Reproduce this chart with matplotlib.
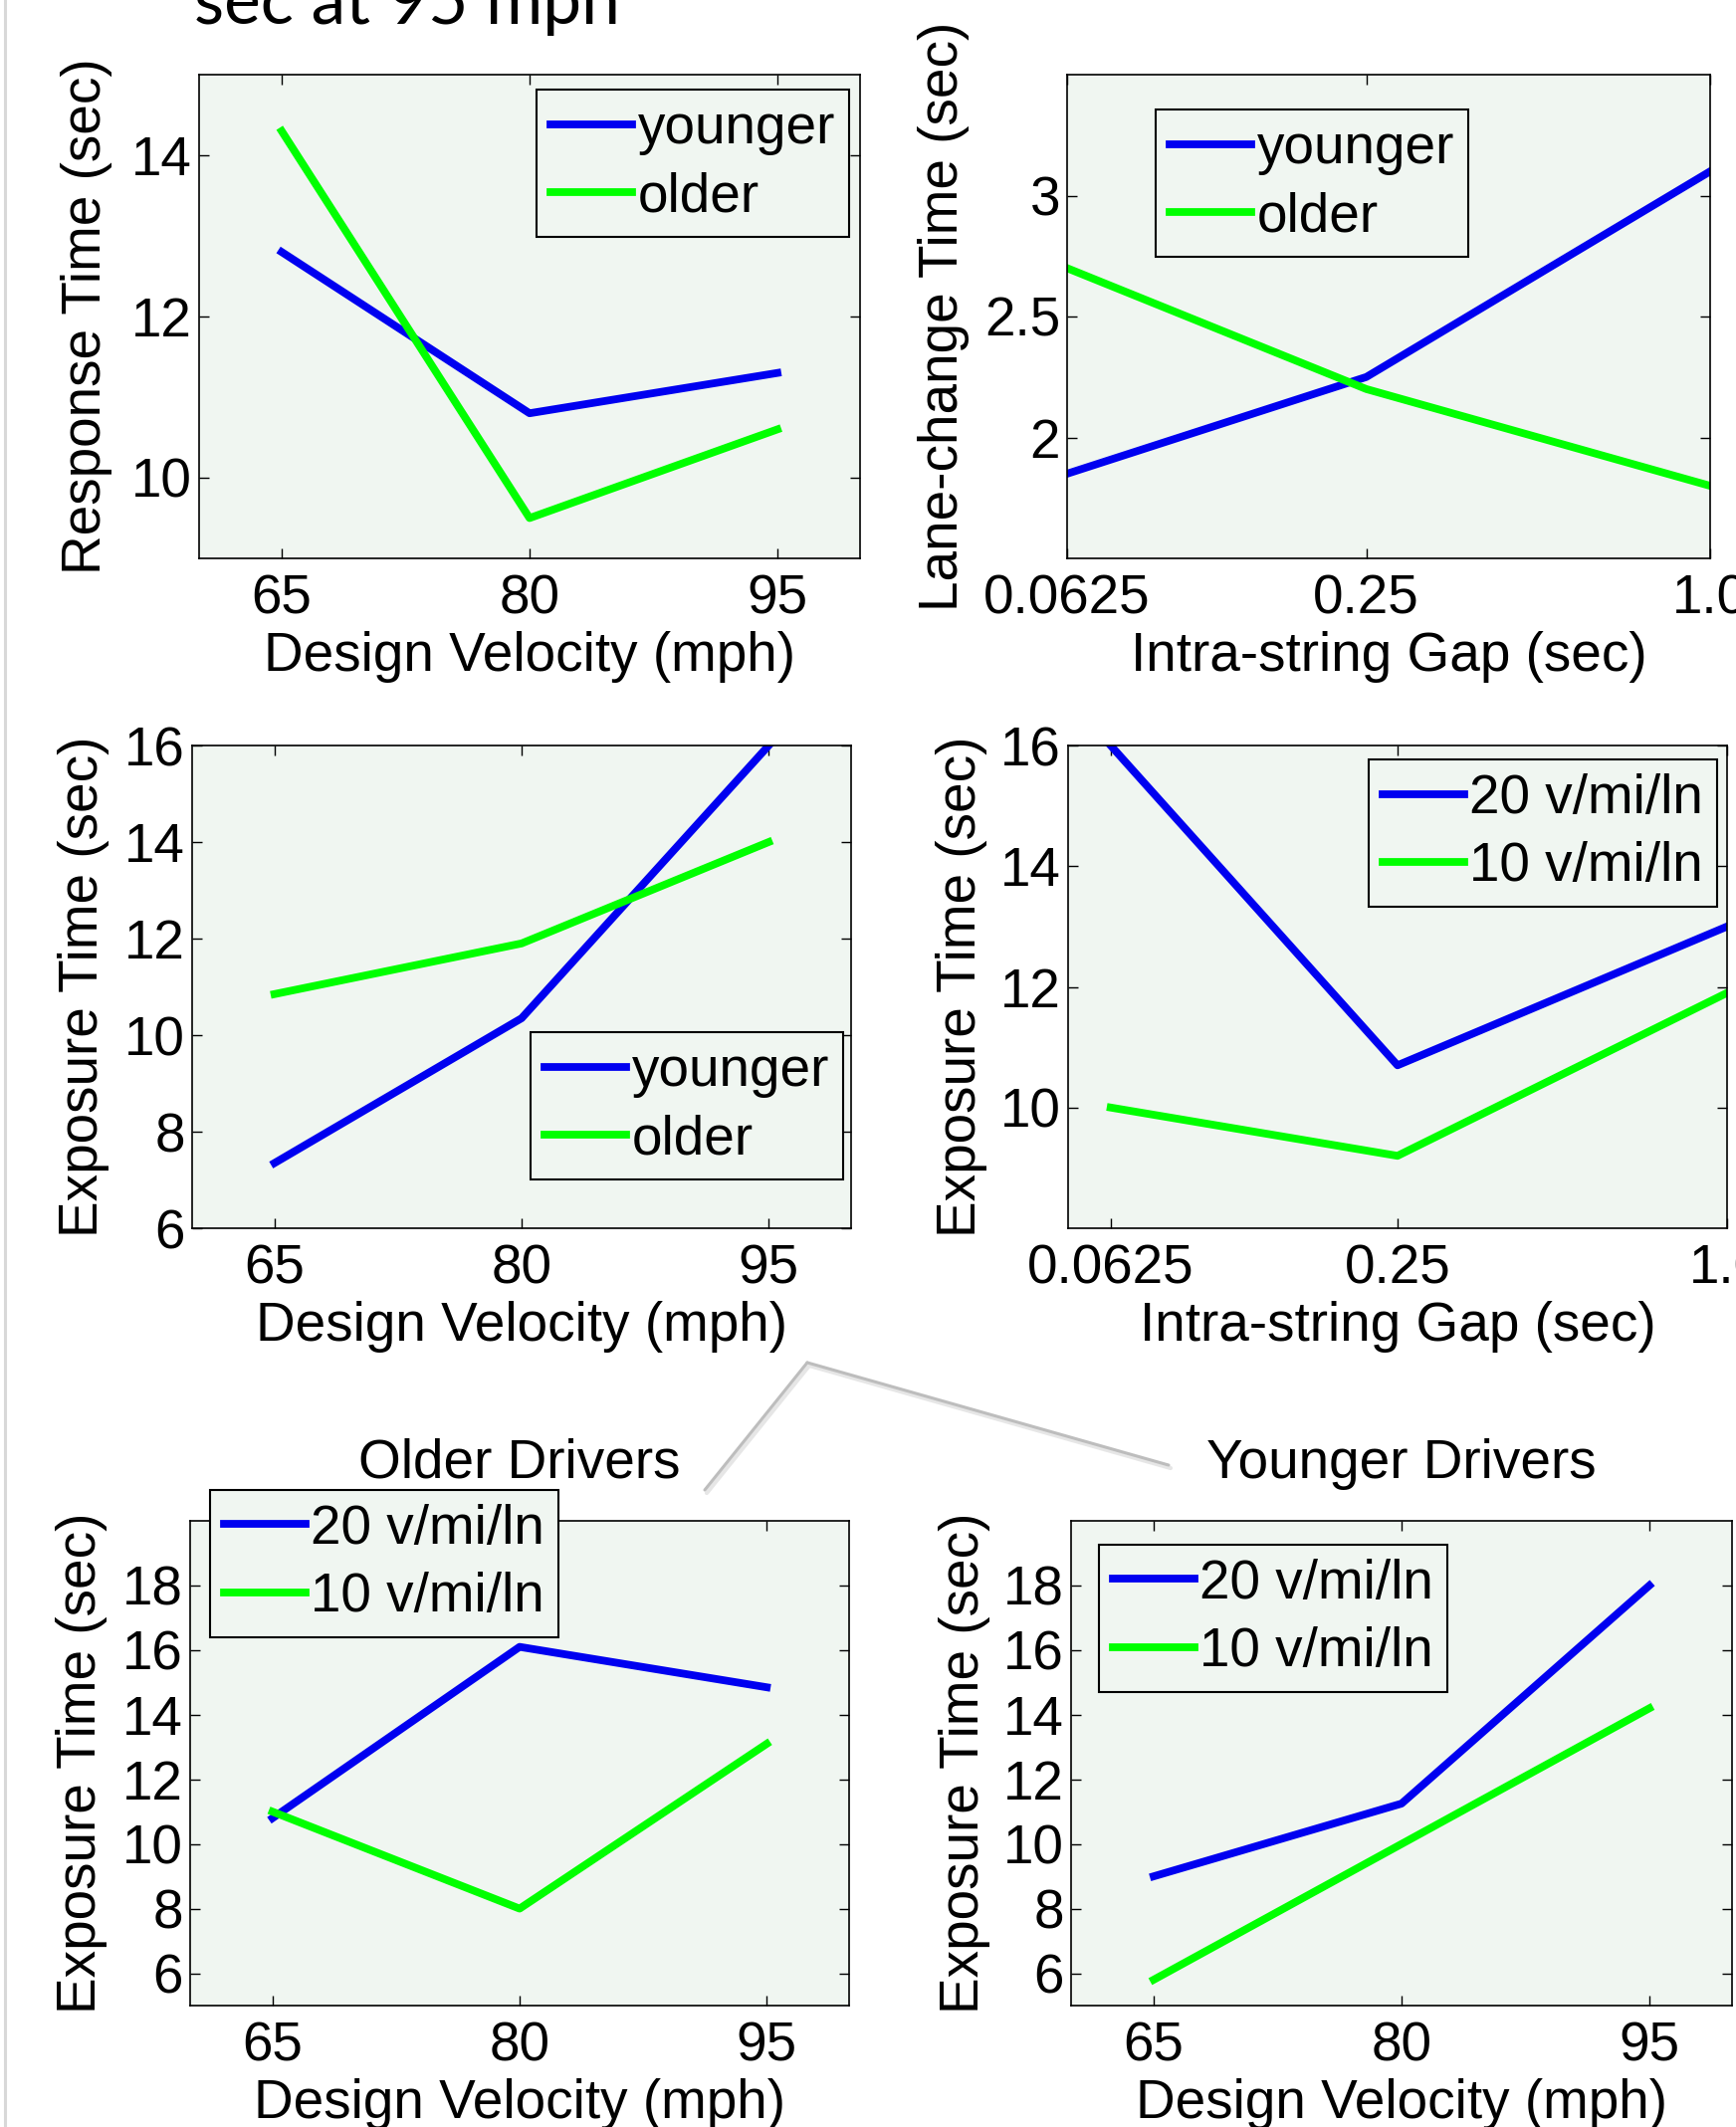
import numpy as np
import matplotlib
matplotlib.use("Agg")
import matplotlib.pyplot as plt
from matplotlib.lines import Line2D

W, H, DPI = 1744, 2137, 100
FS = 39.5
FONT = "Liberation Sans"
AX_BG = "#f0f6f1"
BLUE = "#0000f0"
GREEN = "#00ff00"
LW = 5.6

plt.rcParams["font.family"] = [FONT, "DejaVu Sans"]
plt.rcParams["font.size"] = FS

# ---- data ----
velocity = [65, 80, 95]
gap = [0.0625, 0.25, 1.0]
gap_labels = ["0.0625", "0.25", "1.0"]

resp_younger = [12.8, 10.8, 11.3]
resp_older = [14.3, 9.5, 10.6]

lane_younger = [1.85, 2.25, 3.1]
lane_older = [2.7, 2.2, 1.8]

expo_vel_younger = [7.35, 10.35, 16.0]
expo_vel_older = [10.85, 11.9, 14.0]

expo_gap_20 = [16.0, 10.7, 13.0]
expo_gap_10 = [10.0, 9.2, 11.9]

older_20 = [10.8, 16.1, 14.85]
older_10 = [11.0, 8.0, 13.1]

younger_20 = [9.0, 11.25, 18.0]
younger_10 = [5.8, 10.0, 14.2]

age_labels = ["younger", "older"]
dens_labels = ["20 v/mi/ln", "10 v/mi/ln"]


def px_rect(x0, y0, x1, y1):
    """pixel box (top-left origin) -> figure fraction rect"""
    return [x0 / W, 1 - y1 / H, (x1 - x0) / W, (y1 - y0) / H]


def fwd(x):
    return np.power(np.clip(x, 1e-9, None), 0.1)


def inv(y):
    return np.power(np.clip(y, 1e-9, None), 10.0)


def style(ax):
    ax.set_facecolor(AX_BG)
    for s in ax.spines.values():
        s.set_linewidth(1.2)
        s.set_color("black")
    ax.tick_params(direction="in", length=7, width=1, top=True, right=True,
                   labelsize=FS)
    ax.tick_params(axis="x", pad=11)
    ax.tick_params(axis="y", pad=5)


def legend(ax, labels, loc, anchor):
    leg = ax.legend(labels, loc=loc, bbox_to_anchor=anchor, borderaxespad=0,
                    fontsize=FS, fancybox=False, framealpha=1,
                    facecolor=AX_BG, edgecolor="black", handlelength=1.5,
                    handletextpad=0.1, borderpad=0.25, labelspacing=0.3)
    leg.get_frame().set_linewidth(1.5)
    return leg


fig = plt.figure(figsize=(W / DPI, H / DPI), dpi=DPI)

# ---- panel 1: response time vs velocity ----
ax1 = fig.add_axes(px_rect(200, 75, 864, 561))
ax1.plot(velocity, resp_younger, color=BLUE, lw=LW)
ax1.plot(velocity, resp_older, color=GREEN, lw=LW)
ax1.set_xlim(60, 100)
ax1.set_ylim(9, 15)
ax1.set_xticks(velocity)
ax1.set_yticks([10, 12, 14])
ax1.set_xlabel("Design Velocity (mph)", labelpad=4)
ax1.set_ylabel("Response Time (sec)")
style(ax1)
ax1.yaxis.set_label_coords(-0.131, 0.5)
legend(ax1, age_labels, "upper right", (0.983, 0.969))

# ---- panel 2: lane-change time vs gap ----
ax2 = fig.add_axes(px_rect(1072, 75, 1718, 561))
ax2.set_xscale("function", functions=(fwd, inv))
ax2.plot(gap, lane_younger, color=BLUE, lw=LW)
ax2.plot(gap, lane_older, color=GREEN, lw=LW)
ax2.set_xlim(0.0625, 1.0)
ax2.set_ylim(1.5, 3.5)
ax2.set_xticks(gap, labels=gap_labels)
ax2.set_yticks([2, 2.5, 3], labels=["2", "2.5", "3"])
ax2.set_xlabel("Intra-string Gap (sec)", labelpad=4)
ax2.set_ylabel("Lane-change Time (sec)")
style(ax2)
ax2.yaxis.set_label_coords(-0.152, 0.5)
legend(ax2, age_labels, "upper left", (0.138, 0.928))

# ---- panel 3: exposure time vs velocity ----
ax3 = fig.add_axes(px_rect(193, 749, 855, 1234))
ax3.plot(velocity, expo_vel_younger, color=BLUE, lw=LW)
ax3.plot(velocity, expo_vel_older, color=GREEN, lw=LW)
ax3.set_xlim(60, 100)
ax3.set_ylim(6, 16)
ax3.set_xticks(velocity)
ax3.set_yticks([6, 8, 10, 12, 14, 16])
ax3.set_xlabel("Design Velocity (mph)", labelpad=4)
ax3.set_ylabel("Exposure Time (sec)")
style(ax3)
ax3.yaxis.set_label_coords(-0.126, 0.5)
legend(ax3, age_labels, "lower right", (0.988, 0.101))

# ---- panel 4: exposure time vs gap ----
ax4 = fig.add_axes(px_rect(1073, 749, 1735, 1234))
ax4.set_xscale("function", functions=(fwd, inv))
ax4.plot(gap, expo_gap_20, color=BLUE, lw=LW)
ax4.plot(gap, expo_gap_10, color=GREEN, lw=LW)
ax4.set_xlim(0.05, 1.0)
ax4.set_ylim(8, 16)
ax4.set_xticks(gap, labels=gap_labels)
ax4.set_yticks([10, 12, 14, 16])
ax4.set_xlabel("Intra-string Gap (sec)", labelpad=4)
ax4.set_ylabel("Exposure Time (sec)")
style(ax4)
ax4.yaxis.set_label_coords(-0.123, 0.5)
legend(ax4, dens_labels, "upper right", (0.985, 0.971))

# ---- panel 5: older drivers ----
ax5 = fig.add_axes(px_rect(191, 1528, 853, 2015))
ax5.plot(velocity, older_20, color=BLUE, lw=LW)
ax5.plot(velocity, older_10, color=GREEN, lw=LW)
ax5.set_xlim(60, 100)
ax5.set_ylim(5, 20)
ax5.set_xticks(velocity)
ax5.set_yticks([6, 8, 10, 12, 14, 16, 18])
ax5.set_xlabel("Design Velocity (mph)", labelpad=4)
ax5.set_ylabel("Exposure Time (sec)")
ax5.set_title("Older Drivers", fontsize=FS, y=1.089, pad=0)
style(ax5)
ax5.yaxis.set_label_coords(-0.125, 0.5)
legend(ax5, dens_labels, "upper left", (0.030, 1.064))

# ---- panel 6: younger drivers ----
ax6 = fig.add_axes(px_rect(1076, 1528, 1740, 2015))
ax6.plot(velocity, younger_20, color=BLUE, lw=LW)
ax6.plot(velocity, younger_10, color=GREEN, lw=LW)
ax6.set_xlim(60, 100)
ax6.set_ylim(5, 20)
ax6.set_xticks(velocity)
ax6.set_yticks([6, 8, 10, 12, 14, 16, 18])
ax6.set_xlabel("Design Velocity (mph)", labelpad=4)
ax6.set_ylabel("Exposure Time (sec)")
ax6.set_title("Younger Drivers", fontsize=FS, y=1.089, pad=0)
style(ax6)
ax6.yaxis.set_label_coords(-0.122, 0.5)
legend(ax6, dens_labels, "upper left", (0.042, 0.951))

# ---- slide decorations: cut-off caption, left border, connector lines ----
fig.text(195 / W, 1 - 24 / H, "sec at 95 mph", fontsize=50,
         family=["Lato", "DejaVu Sans"], va="baseline", ha="left")

fig.add_artist(Line2D([5 / W, 5 / W], [0, 1], color="#d8d8d8", lw=2.2,
                      transform=fig.transFigure))

apex = (811, 1369)
ends = [(708, 1497), (1174, 1472)]
for ex, ey in ends:
    xs = [apex[0] / W, ex / W]
    ys = [1 - apex[1] / H, 1 - ey / H]
    fig.add_artist(Line2D([x + 2 / W for x in xs], [y - 3 / H for y in ys],
                          color="#e6e6e6", lw=3, transform=fig.transFigure,
                          solid_capstyle="round"))
    fig.add_artist(Line2D(xs, ys, color="#bdbdbd", lw=2.2,
                          transform=fig.transFigure, solid_capstyle="round"))

fig.savefig("out.png", dpi=DPI, facecolor="white")
